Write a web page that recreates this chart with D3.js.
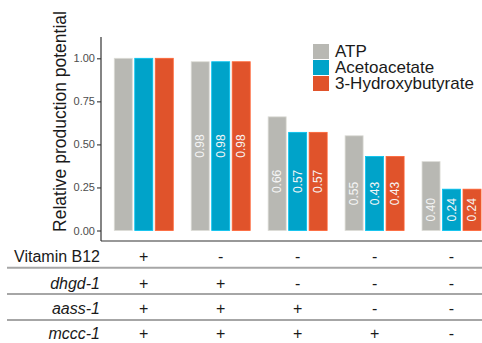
<!DOCTYPE html>
<html>
<head>
<meta charset="utf-8">
<script src="https://cdn.jsdelivr.net/npm/d3@7"></script>
<style>
  html, body { margin: 0; padding: 0; background: #ffffff; }
  svg { display: block; font-family: "Liberation Sans", Arial, sans-serif; }
</style>
</head>
<body>
<svg id="chart" width="482" height="343"></svg>
<script>
// Conditions (one column per strain / treatment)
const categories = ["c1", "c2", "c3", "c4", "c5"];
const seriesNames = ["ATP", "Acetoacetate", "3-Hydroxybutyrate"];
const atpValues = [1.00, 0.98, 0.66, 0.55, 0.40];
const acetoacetateValues = [1.00, 0.98, 0.57, 0.43, 0.24];
const hydroxybutyrateValues = [1.00, 0.98, 0.57, 0.43, 0.24];
const showValueLabel = [false, true, true, true, true];
const yTicks = [0, 0.25, 0.5, 0.75, 1.0];

// Genotype / supplement table under the bars
const rowNames = ["Vitamin B12", "dhgd-1", "aass-1", "mccc-1"];
const rowItalic = [false, true, true, true];
const vitaminB12 = ["+", "-", "-", "-", "-"];
const dhgd1 = ["+", "+", "-", "-", "-"];
const aass1 = ["+", "+", "+", "-", "-"];
const mccc1 = ["+", "+", "+", "+", "-"];

const seriesValues = [atpValues, acetoacetateValues, hydroxybutyrateValues];
const tableRows = [vitaminB12, dhgd1, aass1, mccc1];
const colors = ["#b8b8b3", "#00a3c9", "#e0532b"];

const svg = d3.select("#chart");

const x = d3.scaleBand().domain(categories).range([105.3, 490]).padding(0);
const xSub = d3.scaleBand().domain(seriesNames)
  .range([-29.5, 29.5]).paddingInner(0.12).paddingOuter(0);
const y = d3.scaleLinear().domain([0, 1]).range([230.5, 58.3]);

// Bars
const barData = [];
categories.forEach((c, i) => {
  seriesNames.forEach((s, j) => {
    barData.push({ cat: c, idx: i, series: s, sIdx: j, value: seriesValues[j][i] });
  });
});

const g = svg.append("g");
g.selectAll("rect.bar")
  .data(barData)
  .join("rect")
  .attr("class", "bar")
  .attr("x", d => x(d.cat) + x.bandwidth() / 2 + xSub(d.series))
  .attr("width", xSub.bandwidth())
  .attr("y", d => y(d.value))
  .attr("height", d => y(0) - y(d.value))
  .attr("fill", d => colors[d.sIdx])
  .attr("stroke", d => d3.color(colors[d.sIdx]).brighter(0.5))
  .attr("stroke-width", 0.8);

// Value labels, vertical, centred on half the group's smallest bar
g.selectAll("text.val")
  .data(barData.filter(d => showValueLabel[d.idx]))
  .join("text")
  .attr("class", "val")
  .attr("transform", d => {
    const groupMin = d3.min(seriesValues, v => v[d.idx]);
    const cx = x(d.cat) + x.bandwidth() / 2 + xSub(d.series) + xSub.bandwidth() / 2;
    return `translate(${cx},${y(groupMin / 2)}) rotate(-90)`;
  })
  .attr("text-anchor", "middle")
  .attr("dy", "0.35em")
  .attr("font-size", 12)
  .attr("fill", "#f5f5f5")
  .text(d => d.value.toFixed(2));

// Y axis
const yAxis = svg.append("g")
  .attr("transform", "translate(101,0)")
  .call(d3.axisLeft(y).tickValues(yTicks).tickFormat(d3.format(".2f")).tickSizeOuter(0).tickSize(4).tickPadding(2));
yAxis.select(".domain").remove();
yAxis.selectAll(".tick line").attr("stroke", "#333").attr("stroke-width", 1.1);
yAxis.selectAll(".tick text").attr("fill", "#4d4d4d").attr("font-size", 11)
  .attr("font-family", "Liberation Sans, Arial, sans-serif");

// Axis lines (L shape)
svg.append("line").attr("x1", 101).attr("x2", 101).attr("y1", 37).attr("y2", 241)
  .attr("stroke", "#333").attr("stroke-width", 1.2);
svg.append("line").attr("x1", 101).attr("x2", 482).attr("y1", 241).attr("y2", 241)
  .attr("stroke", "#333").attr("stroke-width", 1.2);

// Y axis title
svg.append("text")
  .attr("transform", "translate(66,121.5) rotate(-90)")
  .attr("text-anchor", "middle")
  .attr("font-size", 17.5)
  .attr("fill", "#1a1a1a")
  .text("Relative production potential");

// Legend
const legend = svg.append("g").attr("transform", "translate(313,44)");
seriesNames.forEach((s, j) => {
  legend.append("rect")
    .attr("x", 0).attr("y", j * 16)
    .attr("width", 16).attr("height", 15)
    .attr("fill", colors[j]);
  legend.append("text")
    .attr("x", 22).attr("y", j * 16 + 7.5)
    .attr("dy", "0.35em")
    .attr("font-size", 17)
    .attr("fill", "#1a1a1a")
    .text(s);
});

// Condition table
const rowY = [256.5, 283, 308.5, 333];
const sepY = [267.8, 294, 320];
sepY.forEach(yy => {
  svg.append("line").attr("x1", 7).attr("x2", 482).attr("y1", yy).attr("y2", yy)
    .attr("stroke", "#a6a6a6").attr("stroke-width", 2);
});
rowNames.forEach((name, r) => {
  svg.append("text")
    .attr("x", 100).attr("y", rowY[r])
    .attr("dy", "0.35em")
    .attr("text-anchor", "end")
    .attr("font-size", 16)
    .attr("font-style", rowItalic[r] ? "italic" : "normal")
    .attr("fill", "#1a1a1a")
    .text(name);
  svg.selectAll(null)
    .data(tableRows[r])
    .join("text")
    .attr("x", (d, i) => x(categories[i]) + x.bandwidth() / 2)
    .attr("y", rowY[r])
    .attr("dy", "0.35em")
    .attr("text-anchor", "middle")
    .attr("font-size", 16)
    .attr("fill", "#1a1a1a")
    .text(d => d);
});
</script>
</body>
</html>
